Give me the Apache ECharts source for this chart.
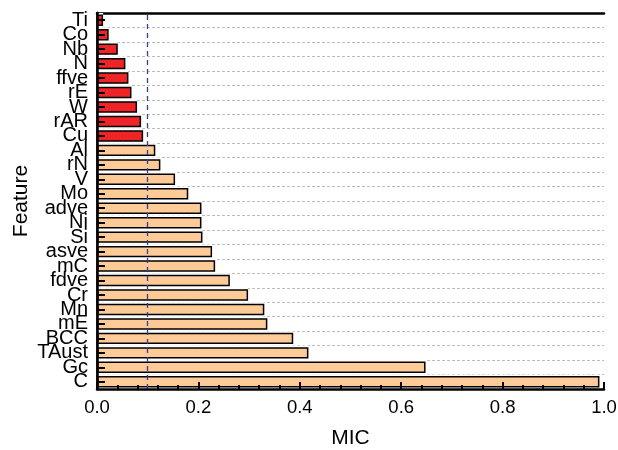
<!DOCTYPE html>
<html>
<head>
<meta charset="utf-8">
<script src="https://cdn.jsdelivr.net/npm/echarts@6/dist/echarts.min.js"></script>
<style>
  html, body { margin: 0; padding: 0; background: #fff; }
  #chart { width: 618px; height: 450px; }
</style>
</head>
<body>
<div id="chart"></div>
<script>
// features listed bottom -> top, as the category axis draws them
const features = ['C', 'Gc', 'TAust', 'BCC', 'mE', 'Mn', 'Cr', 'fdve', 'mC', 'asve',
  'Si', 'Ni', 'adve', 'Mo', 'V', 'rN', 'Al', 'Cu', 'rAR', 'W', 'rE', 'ffve', 'N', 'Nb', 'Co', 'Ti'];
const mic = [0.991, 0.648, 0.417, 0.387, 0.336, 0.330, 0.298, 0.262, 0.233, 0.227,
  0.208, 0.206, 0.206, 0.180, 0.154, 0.125, 0.115, 0.091, 0.087, 0.079, 0.068, 0.062, 0.056, 0.041, 0.023, 0.012];
const micTicks = [0, 0.2, 0.4, 0.6, 0.8, 1.0];
const threshold = 0.1;

const font = '"Liberation Sans", Arial, sans-serif';
const chart = echarts.init(document.getElementById('chart'));

const option = {
  animation: false,
  textStyle: { fontFamily: font },
  grid: { left: 97, right: 14, top: 13, bottom: 61, outerBoundsMode: 'none' },
  xAxis: [{
    type: 'value',
    min: micTicks[0],
    max: micTicks[micTicks.length - 1],
    interval: 0.2,
    z: 10,
    name: 'MIC',
    nameLocation: 'middle',
    nameGap: 39,
    nameMoveOverlap: false,
    nameTextStyle: { fontSize: 21, color: '#000' },
    axisLine: { show: true, lineStyle: { color: '#000', width: 2.5 } },
    axisTick: { show: true, inside: true, length: 7, lineStyle: { color: '#000', width: 2 } },
    minorTick: { show: true, splitNumber: 5, length: 4, lineStyle: { color: '#000', width: 2 } },
    axisLabel: { fontSize: 18.5, color: '#000', margin: 9, formatter: v => v.toFixed(1) },
    splitLine: { show: false }
  }, {
    type: 'value',
    position: 'top',
    min: micTicks[0],
    max: micTicks[micTicks.length - 1],
    axisLine: { show: true, lineStyle: { color: '#000', width: 2.5 } },
    axisTick: { show: false },
    axisLabel: { show: false },
    splitLine: { show: false }
  }],
  yAxis: [{
    type: 'category',
    data: features,
    z: 10,
    name: 'Feature',
    nameLocation: 'middle',
    nameGap: 65,
    nameMoveOverlap: false,
    nameTextStyle: { fontSize: 21, color: '#000' },
    axisLine: { show: true, lineStyle: { color: '#000', width: 2.5 } },
    axisTick: { show: true, inside: true, alignWithLabel: true, length: 8, lineStyle: { color: '#000', width: 2 } },
    axisLabel: { fontSize: 20, color: '#000', margin: 9, interval: 0, lineHeight: 14 },
    splitLine: { show: false }
  }, {
    type: 'category',
    data: features,
    position: 'right',
    axisLine: { show: true, lineStyle: { color: '#000', width: 2.5 } },
    axisTick: { show: false },
    axisLabel: { show: false },
    splitLine: { show: true, interval: 0, lineStyle: { color: '#bdbdbd', type: [3, 2], width: 1 } }
  }],
  series: [{
    // white bands hide the row separators behind each bar, as in the original
    type: 'bar',
    yAxisIndex: 1,
    data: mic,
    barWidth: '100%',
    silent: true,
    itemStyle: { color: '#fff' }
  }, {
    type: 'bar',
    yAxisIndex: 0,
    data: mic.map(v => ({
      value: v,
      itemStyle: { color: v < threshold ? '#EE2427' : '#FDCA98' }
    })),
    barWidth: '79%',
    itemStyle: { borderColor: '#000', borderWidth: 1.5 },
    markLine: {
      silent: true,
      symbol: 'none',
      label: { show: false },
      lineStyle: { color: '#2f4290', type: [5, 4], width: 1.3 },
      data: [{ xAxis: threshold }]
    }
  }]
};

chart.setOption(option);
</script>
</body>
</html>
